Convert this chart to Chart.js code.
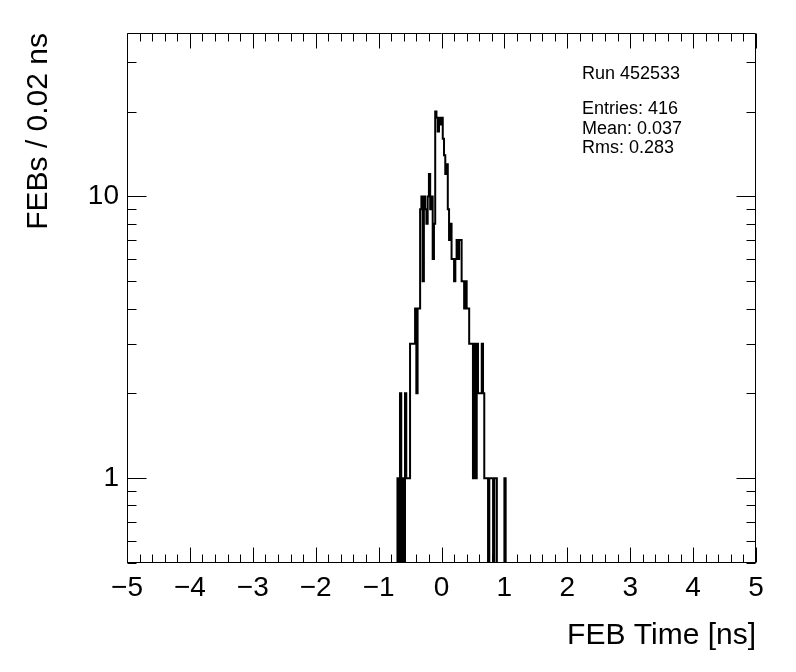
<!DOCTYPE html>
<html>
<head>
<meta charset="utf-8">
<title>FEB Time</title>
<script src="https://cdn.jsdelivr.net/npm/chart.js@4"></script>
<style>
  html, body { margin: 0; padding: 0; background: #fff; }
</style>
</head>
<body>
<canvas id="feb-time" width="796" height="672"></canvas>
<script>
// FEB time histogram, 0.02 ns bins (log y)
const xRange = [-5, 5];
const yRange = [0.5, 38];
const firstBinLow = -0.70;
const binWidth = 0.02;
const febCounts = [
  1, 0, 2, 0, 1, 0, 2, 1, 1, 1,        // -0.70 .. -0.52
  3, 3, 3, 3, 4, 2, 4, 4, 9, 10,       // -0.50 .. -0.32
  5, 10, 9, 8, 10, 12, 9, 10, 6, 8,    // -0.30 .. -0.12
  20, 19, 17, 19, 18, 19, 16, 14, 12, 13, // -0.10 .. 0.08
  9, 7, 8, 6, 6, 5, 6, 7, 6, 7,        // 0.10 .. 0.28
  7, 5, 5, 4, 5, 4, 4, 3, 3, 3,        // 0.30 .. 0.48
  1, 3, 1, 3, 2, 2, 2, 3, 2, 1,        // 0.50 .. 0.68
  1, 1, 0, 1, 1, 1, 0, 1, 1, 0,        // 0.70 .. 0.88
  0, 0, 0, 0, 0, 1                     // 0.90 .. 1.00
];
const xTickValues = [-5, -4, -3, -2, -1, 0, 1, 2, 3, 4, 5];
const yTickLabels = [1, 10];
const statsLines = ['Run 452533', 'Entries: 416', 'Mean: 0.037', 'Rms: 0.283'];

const fontFamily = "'Liberation Sans', Arial, Helvetica, sans-serif";

// outline points, zero bins sit on the lower edge
const histPoints = [{x: xRange[0], y: yRange[0]}, {x: firstBinLow, y: yRange[0]}];
febCounts.forEach((n, i) => {
  histPoints.push({x: firstBinLow + i * binWidth, y: Math.max(n, yRange[0])});
});
histPoints.push({x: firstBinLow + febCounts.length * binWidth, y: yRange[0]});
histPoints.push({x: xRange[1], y: yRange[0]});

// ROOT style frame: inward ticks on all four sides + stats text
const rootFrame = {
  id: 'rootFrame',
  afterDatasetsDraw(chart) {
    const {ctx, chartArea: a, scales: {x, y}} = chart;
    const L = Math.round(a.left) + 0.5, R = Math.round(a.right) - 0.5;
    const T = Math.round(a.top) + 0.5, B = Math.round(a.bottom) - 0.5;
    ctx.save();
    ctx.strokeStyle = '#000';
    ctx.lineWidth = 1;
    ctx.beginPath();
    ctx.rect(L, T, R - L, B - T);
    for (let i = 0; i <= 50; i++) {
      const v = xRange[0] + i * 0.2;
      const px = Math.round(x.getPixelForValue(v)) + 0.5;
      const len = i % 5 === 0 ? 15 : 8;
      ctx.moveTo(px, B); ctx.lineTo(px, B - len);
      ctx.moveTo(px, T); ctx.lineTo(px, T + len);
    }
    [0.1, 1, 10].forEach(d => {
      for (let m = 1; m <= 9; m++) {
        const v = m * d;
        if (v < yRange[0] || v > yRange[1]) continue;
        const py = Math.round(y.getPixelForValue(v)) + 0.5;
        const len = m === 1 ? 19 : 9;
        ctx.moveTo(L, py); ctx.lineTo(L + len, py);
        ctx.moveTo(R, py); ctx.lineTo(R - len, py);
      }
    });
    ctx.stroke();

    ctx.fillStyle = '#000';
    ctx.font = '18px ' + fontFamily;
    ctx.textAlign = 'left';
    ctx.textBaseline = 'alphabetic';
    const baselines = [79, 114, 133.5, 153];
    statsLines.forEach((s, i) => ctx.fillText(s, 582, baselines[i]));
    ctx.restore();
  }
};

new Chart(document.getElementById('feb-time'), {
  type: 'line',
  data: {
    datasets: [{
      data: histPoints,
      borderColor: '#000',
      borderWidth: 2,
      pointRadius: 0,
      fill: false,
      stepped: 'before'
    }]
  },
  options: {
    responsive: false,
    animation: false,
    devicePixelRatio: 1,
    layout: { padding: { top: 33, right: 40, left: 0, bottom: 0 } },
    plugins: {
      legend: { display: false },
      tooltip: { enabled: false }
    },
    scales: {
      x: {
        type: 'linear',
        min: xRange[0],
        max: xRange[1],
        afterBuildTicks: s => { s.ticks = xTickValues.map(v => ({value: v})); },
        afterFit: s => { s.height = 672 - 563; },
        grid: { display: false, drawTicks: false },
        border: { display: false },
        ticks: {
          color: '#000',
          font: { family: fontFamily, size: 28 },
          padding: 8,
          maxRotation: 0,
          autoSkip: false,
          callback: v => String(v).replace('-', '\u2212')
        },
        title: {
          display: true,
          text: 'FEB Time [ns]',
          align: 'end',
          color: '#000',
          font: { family: fontFamily, size: 30 },
          padding: { top: 0, bottom: 18 }
        }
      },
      y: {
        type: 'logarithmic',
        min: yRange[0],
        max: yRange[1],
        afterBuildTicks: s => { s.ticks = yTickLabels.map(v => ({value: v})); },
        afterFit: s => { s.width = 127; },
        grid: { display: false, drawTicks: false },
        border: { display: false },
        ticks: {
          color: '#000',
          font: { family: fontFamily, size: 28 },
          padding: 8,
          autoSkip: false,
          callback: v => String(v)
        },
        title: {
          display: true,
          text: 'FEBs / 0.02 ns',
          align: 'end',
          color: '#000',
          font: { family: fontFamily, size: 30 },
          padding: { top: 21, bottom: 0 }
        }
      }
    }
  },
  plugins: [rootFrame]
});
</script>
</body>
</html>
